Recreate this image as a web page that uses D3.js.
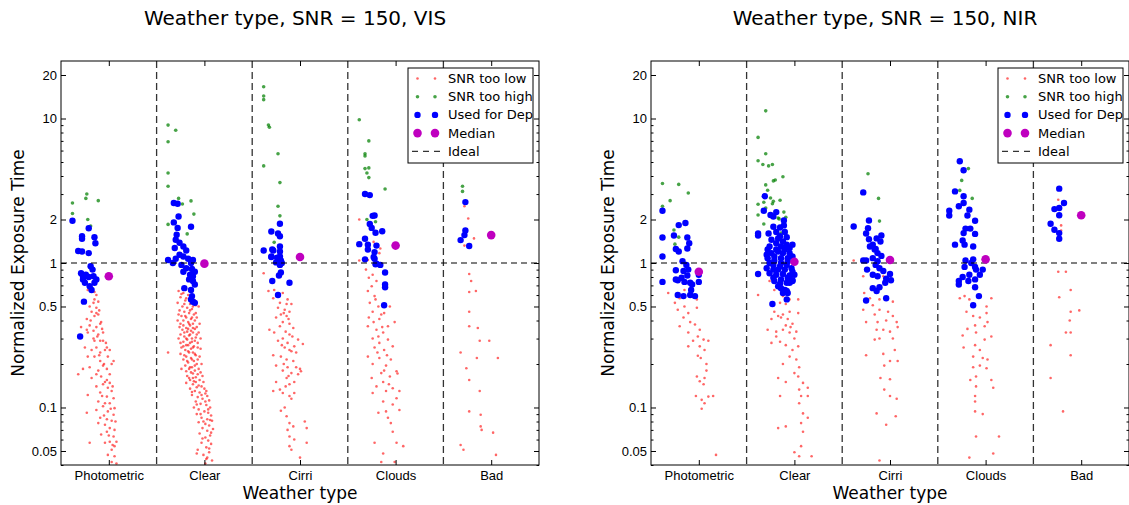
<!DOCTYPE html>
<html>
<head>
<meta charset="utf-8">
<script src="https://cdn.jsdelivr.net/npm/d3@7"></script>
<style>
body{margin:0;background:#fff;}
svg{display:block;font-family:"DejaVu Sans",sans-serif;}
</style>
</head>
<body>
<script>
// categories on the x axis and the labelled y ticks
var categories = ["Photometric","Clear","Cirri","Clouds","Bad"];
var yTicks = [0.05,0.1,0.5,1,2,10,20];
var titles = ["Weather type, SNR = 150, VIS","Weather type, SNR = 150, NIR"];
var legendLabels = ["SNR too low","SNR too high","Used for Dep","Median","Ideal"];

// points per category: [offset from category centre, normalized exposure time]
// ---------------- VIS ----------------
var visLow = [
 [[-0.13,0.60],[-0.15,0.56],[-0.16,0.53],[-0.11,0.54],[-0.20,0.50],[-0.13,0.49],[-0.18,0.46],[-0.23,0.41],[-0.15,0.43],[-0.11,0.44],[-0.20,0.37],[-0.13,0.36],[-0.09,0.38],[-0.16,0.34],[-0.22,0.33],[-0.11,0.32],[-0.09,0.29],[-0.06,0.29],[-0.16,0.30],[-0.25,0.26],[-0.13,0.26],[-0.18,0.25],[-0.09,0.24],[-0.04,0.25],[0.01,0.25],[-0.01,0.225],[-0.15,0.225],[-0.09,0.21],[0.03,0.20],[-0.06,0.195],[-0.20,0.19],[-0.27,0.185],[-0.02,0.185],[-0.13,0.17],[0.01,0.17],[-0.32,0.17],[-0.08,0.164],[-0.18,0.16],[-0.04,0.15],[0.01,0.148],[-0.06,0.145],[-0.13,0.14],[-0.01,0.137],[0.03,0.13],[-0.09,0.127],[-0.22,0.122],[-0.02,0.119],[0.05,0.116],[-0.11,0.11],[-0.04,0.107],[0.01,0.107],[-0.06,0.102],[0.06,0.099],[-0.13,0.096],[-0.01,0.094],[-0.23,0.092],[0.05,0.089],[-0.09,0.085],[-0.02,0.083],[0.03,0.081],[-0.11,0.078],[-0.04,0.076],[0.01,0.072],[0.06,0.070],[-0.02,0.068],[-0.08,0.065],[0.05,0.063],[0.01,0.058],[0.08,0.058],[-0.04,0.057],[0.06,0.054],[0.03,0.051],[-0.20,0.057],[-0.01,0.047],[0.06,0.046],[0.03,0.042],[0.08,0.041],[-0.13,0.45],[-0.08,0.39],[-0.23,0.345],[-0.06,0.33],[-0.15,0.29],[-0.29,0.36],[-0.02,0.26],[-0.22,0.225],[0.05,0.21],[-0.15,0.63],[-0.22,0.65],[-0.10,0.47],[-0.19,0.40],[-0.07,0.35],[-0.12,0.31],[-0.03,0.28],[-0.10,0.23],[-0.05,0.20],[-0.11,0.18],[-0.02,0.155],[0.04,0.14],[-0.07,0.12],[0.02,0.098],[-0.05,0.088],[0.07,0.08],[0.00,0.064],[0.04,0.055]],
 [[-0.27,0.64],[-0.22,0.62],[-0.17,0.60],[-0.25,0.58],[-0.12,0.57],[-0.20,0.55],[-0.28,0.53],[-0.15,0.52],[-0.09,0.51],[-0.23,0.50],[-0.18,0.49],[-0.13,0.48],[-0.06,0.50],[-0.26,0.47],[-0.21,0.46],[-0.16,0.45],[-0.11,0.44],[-0.24,0.43],[-0.19,0.42],[-0.14,0.41],[-0.08,0.42],[-0.28,0.40],[-0.17,0.39],[-0.12,0.38],[-0.22,0.37],[-0.15,0.37],[-0.05,0.38],[-0.26,0.36],[-0.19,0.355],[-0.10,0.35],[-0.14,0.34],[-0.23,0.345],[-0.18,0.335],[-0.12,0.33],[-0.25,0.32],[-0.16,0.315],[-0.08,0.32],[-0.21,0.31],[-0.13,0.30],[-0.27,0.30],[-0.18,0.295],[-0.10,0.29],[-0.04,0.30],[-0.22,0.285],[-0.15,0.28],[-0.38,0.24],[-0.19,0.27],[-0.11,0.265],[-0.24,0.26],[-0.14,0.255],[-0.07,0.26],[-0.20,0.25],[-0.17,0.245],[-0.12,0.24],[-0.25,0.235],[-0.09,0.23],[-0.19,0.225],[-0.14,0.22],[-0.05,0.225],[-0.22,0.215],[-0.11,0.21],[-0.17,0.205],[-0.08,0.20],[-0.20,0.195],[-0.13,0.19],[-0.03,0.20],[-0.16,0.185],[-0.10,0.18],[-0.24,0.185],[-0.14,0.175],[-0.07,0.17],[-0.18,0.165],[-0.12,0.16],[-0.02,0.165],[-0.15,0.155],[-0.09,0.15],[-0.05,0.155],[-0.19,0.148],[-0.12,0.145],[-0.03,0.14],[-0.08,0.138],[-0.15,0.135],[0.00,0.135],[-0.10,0.13],[-0.05,0.127],[0.01,0.125],[-0.13,0.122],[-0.07,0.118],[0.03,0.12],[-0.02,0.115],[-0.09,0.11],[0.05,0.112],[-0.04,0.106],[0.02,0.104],[-0.11,0.10],[0.06,0.10],[-0.06,0.097],[0.00,0.094],[0.04,0.092],[-0.08,0.09],[0.07,0.088],[-0.03,0.085],[0.03,0.083],[0.08,0.081],[-0.06,0.079],[0.01,0.077],[0.05,0.075],[-0.02,0.072],[0.09,0.071],[0.03,0.069],[-0.05,0.066],[0.06,0.064],[0.01,0.062],[0.04,0.059],[-0.03,0.057],[0.07,0.056],[0.02,0.053],[-0.07,0.051],[0.05,0.049],[-0.01,0.047],[0.03,0.045],[-0.08,0.048],[0.08,0.043],[0.01,0.041],
  [-0.24,0.61],[-0.14,0.59],[-0.19,0.57],[-0.10,0.55],[-0.21,0.52],[-0.12,0.50],[-0.15,0.47],[-0.27,0.44],[-0.09,0.45],[-0.20,0.43],[-0.13,0.42],[-0.22,0.40],[-0.10,0.40],[-0.16,0.38],[-0.25,0.38],[-0.08,0.36],[-0.17,0.35],[-0.12,0.355],[-0.21,0.33],[-0.06,0.33],[-0.15,0.32],[-0.19,0.30],[-0.09,0.305],[-0.13,0.285],[-0.25,0.28],[-0.07,0.28],[-0.17,0.27],[-0.22,0.265],[-0.12,0.26],[-0.04,0.255],[-0.16,0.24],[-0.10,0.235],[-0.21,0.23],[-0.13,0.215],[-0.07,0.215],[-0.18,0.21],[-0.10,0.195],[-0.15,0.19],[-0.06,0.185],[-0.19,0.178],[-0.12,0.172],[-0.04,0.175],[-0.09,0.162],[-0.16,0.16],[-0.01,0.15],[-0.11,0.152],[-0.06,0.142],[-0.13,0.128],[0.02,0.13],[-0.03,0.122],[-0.08,0.105],[0.01,0.11],[0.04,0.097],[-0.04,0.09],[0.06,0.082],[-0.01,0.08],[0.07,0.067],[-0.02,0.061],[0.05,0.052],[0.02,0.044]],
 [[-0.38,0.85],[-0.33,0.64],[-0.27,0.65],[-0.18,0.62],[-0.28,0.57],[-0.21,0.53],[-0.13,0.56],[-0.09,0.52],[-0.23,0.49],[-0.16,0.475],[-0.11,0.46],[-0.20,0.44],[-0.14,0.43],[-0.25,0.42],[-0.18,0.39],[-0.11,0.38],[-0.21,0.365],[-0.32,0.345],[-0.15,0.335],[-0.27,0.33],[-0.11,0.32],[-0.18,0.30],[-0.02,0.295],[-0.23,0.29],[-0.13,0.28],[0.03,0.275],[-0.16,0.26],[-0.06,0.265],[-0.09,0.245],[-0.20,0.225],[-0.14,0.215],[-0.07,0.21],[-0.25,0.195],[-0.13,0.19],[0.00,0.185],[-0.18,0.18],[-0.09,0.173],[-0.02,0.17],[-0.14,0.16],[-0.25,0.15],[-0.06,0.15],[-0.11,0.145],[-0.28,0.13],[-0.18,0.126],[-0.06,0.126],[-0.11,0.12],[-0.16,0.10],[-0.20,0.095],[-0.14,0.087],[-0.11,0.078],[0.05,0.08],[-0.07,0.074],[0.07,0.072],[-0.13,0.070],[-0.11,0.063],[-0.06,0.06],[0.07,0.057],[-0.11,0.054],[-0.09,0.051],[0.00,0.045],[-0.28,0.23],[-0.04,0.24],[-0.21,0.133],[0.01,0.178],[-0.14,0.52],[-0.07,0.355],[-0.17,0.45],[-0.12,0.41],[-0.08,0.31],[-0.19,0.27],[-0.11,0.25],[-0.17,0.2],[-0.04,0.19],[-0.15,0.14],[-0.12,0.165],[-0.09,0.115]],
 [[-0.38,2.0],[-0.29,1.05],[-0.23,1.40],[-0.16,1.26],[-0.17,1.17],[-0.38,1.04],[-0.31,0.90],[-0.24,0.83],[-0.28,0.79],[-0.20,0.75],[-0.29,0.64],[-0.22,0.59],[-0.27,0.53],[-0.18,0.50],[-0.24,0.46],[-0.12,0.45],[-0.28,0.42],[-0.17,0.41],[-0.01,0.39],[-0.29,0.365],[-0.20,0.345],[-0.13,0.33],[-0.24,0.30],[-0.08,0.295],[-0.17,0.28],[-0.03,0.265],[-0.22,0.26],[-0.12,0.25],[-0.29,0.225],[-0.17,0.22],[-0.05,0.215],[-0.24,0.20],[-0.10,0.195],[0.01,0.178],[-0.15,0.173],[-0.25,0.16],[-0.06,0.164],[0.02,0.172],[-0.13,0.15],[-0.20,0.14],[-0.03,0.136],[-0.10,0.13],[0.04,0.13],[-0.24,0.126],[-0.13,0.11],[0.01,0.116],[-0.18,0.092],[-0.10,0.094],[-0.05,0.078],[-0.03,0.068],[0.01,0.057],[0.08,0.054],[-0.22,0.057],[-0.13,0.048],[-0.01,0.042],[-0.15,0.042],[0.04,0.096],[-0.18,0.31],[-0.08,0.365],[-0.06,0.50],[-0.25,0.69],[-0.21,0.56],[-0.15,0.44],[-0.23,0.39],[-0.14,0.36],[-0.19,0.24],[-0.09,0.23],[-0.12,0.18],[-0.07,0.145],[-0.03,0.105],[-0.08,0.085]],
 [[-0.28,2.47],[-0.24,2.03],[-0.18,1.48],[-0.28,1.32],[-0.23,0.84],[-0.21,0.75],[-0.23,0.63],[-0.16,0.64],[-0.23,0.46],[-0.23,0.365],[-0.14,0.355],[-0.12,0.29],[-0.02,0.29],[-0.32,0.24],[-0.15,0.22],[0.07,0.22],[-0.26,0.187],[-0.23,0.155],[-0.12,0.13],[-0.23,0.094],[-0.11,0.089],[-0.11,0.074],[-0.10,0.07],[0.02,0.067],[-0.32,0.055],[-0.29,0.051],[0.05,0.047]]
];
var visHigh = [
 [[-0.38,2.6],[-0.38,2.2],[-0.23,3.0],[-0.24,2.8],[-0.11,2.7],[-0.22,2.0],[-0.19,1.8]],
 [[-0.38,9.0],[-0.30,8.3],[-0.38,6.9],[-0.38,4.2],[-0.38,3.4],[-0.27,2.8],[-0.14,2.69],[-0.23,2.56],[-0.11,2.18],[-0.38,1.85],[-0.18,1.59]],
 [[-0.38,16.6],[-0.38,14.3],[-0.38,13.5],[-0.33,9.0],[-0.32,8.7],[-0.23,5.7],[-0.38,4.7],[-0.21,3.6],[-0.23,2.47],[-0.21,2.12],[-0.27,1.39]],
 [[-0.38,9.8],[-0.28,7.0],[-0.32,5.7],[-0.32,5.5],[-0.32,4.5],[-0.28,4.55],[-0.30,4.2],[-0.28,3.9],[-0.11,3.25],[-0.30,2.0],[-0.21,1.93]],
 [[-0.30,3.4],[-0.30,3.13]]
];
var visUsed = [
 [[-0.38,1.96],[-0.21,1.74],[-0.28,1.53],[-0.28,1.47],[-0.15,1.51],[-0.14,1.37],[-0.32,1.21],[-0.28,1.2],[-0.21,1.17],[-0.19,0.95],[-0.17,0.90],[-0.29,0.85],[-0.27,0.81],[-0.24,0.83],[-0.21,0.80],[-0.16,0.81],[-0.13,0.77],[-0.27,0.77],[-0.25,0.73],[-0.20,0.69],[-0.18,0.65],[-0.15,0.73],[-0.26,0.54],[-0.30,0.31]],
 [[-0.32,2.60],[-0.28,2.57],[-0.27,2.10],[-0.32,1.91],[-0.14,1.78],[-0.28,1.75],[-0.29,1.57],[-0.30,1.45],[-0.26,1.38],[-0.31,1.27],[-0.22,1.30],[-0.19,1.22],[-0.26,1.14],[-0.22,1.11],[-0.38,1.05],[-0.30,1.07],[-0.17,1.07],[-0.12,1.05],[-0.14,1.0],[-0.33,1.0],[-0.24,0.97],[-0.19,0.92],[-0.13,0.91],[-0.10,0.87],[-0.22,0.87],[-0.15,0.83],[-0.12,0.81],[-0.16,0.77],[-0.12,0.75],[-0.10,0.71],[-0.21,0.67],[-0.14,0.65],[-0.13,0.59],[-0.14,0.56],[-0.12,0.54],[-0.10,0.53]],
 [[-0.21,1.87],[-0.30,1.65],[-0.23,1.6],[-0.21,1.53],[-0.38,1.22],[-0.29,1.24],[-0.21,1.30],[-0.21,1.2],[-0.30,1.10],[-0.24,1.09],[-0.20,1.04],[-0.21,0.97],[-0.28,1.22],[-0.30,1.11],[-0.21,1.11],[-0.25,1.01],[-0.19,1.0],[-0.20,0.86],[-0.22,0.82],[-0.29,0.75],[-0.11,0.73],[-0.23,0.60]],
 [[-0.32,3.0],[-0.27,2.95],[-0.24,2.12],[-0.22,2.13],[-0.27,1.86],[-0.25,1.75],[-0.14,1.66],[-0.21,1.62],[-0.32,1.47],[-0.38,1.35],[-0.29,1.34],[-0.20,1.32],[-0.29,1.24],[-0.22,1.19],[-0.32,1.06],[-0.22,1.07],[-0.20,0.99],[-0.16,0.97],[-0.23,1.1],[-0.21,0.98],[-0.11,0.86],[-0.11,0.71],[-0.11,0.68],[-0.12,0.51]],
 [[-0.27,2.64],[-0.27,1.68],[-0.28,1.56],[-0.32,1.44],[-0.23,1.31]]
];
var visMedian = [0.81,0.99,1.10,1.32,1.56];

// ---------------- NIR ----------------
var nirLow = [
 [[-0.32,0.62],[-0.25,0.53],[-0.13,0.73],[-0.09,0.62],[-0.20,0.57],[-0.02,0.56],[-0.15,0.50],[-0.22,0.475],[-0.11,0.45],[-0.02,0.49],[-0.16,0.42],[-0.09,0.39],[-0.20,0.365],[-0.04,0.375],[0.01,0.345],[-0.11,0.33],[-0.01,0.31],[0.05,0.295],[0.10,0.29],[-0.11,0.265],[0.01,0.265],[0.06,0.25],[-0.01,0.228],[0.02,0.22],[0.08,0.20],[-0.02,0.164],[0.06,0.16],[0.01,0.152],[0.05,0.145],[-0.03,0.12],[0.15,0.12],[0.10,0.119],[0.03,0.113],[0.06,0.107],[0.03,0.098],[0.18,0.047],[0.08,0.18],[-0.06,0.29],[-0.15,0.65]],
 [[-0.38,0.60],[-0.26,0.75],[-0.21,0.65],[-0.12,0.59],[-0.15,0.53],[-0.05,0.56],[0.04,0.56],[-0.21,0.46],[-0.12,0.44],[-0.05,0.46],[0.04,0.45],[-0.24,0.41],[-0.14,0.42],[-0.09,0.37],[-0.02,0.38],[-0.28,0.345],[-0.19,0.335],[-0.12,0.345],[-0.05,0.33],[0.02,0.335],[-0.24,0.28],[-0.15,0.285],[-0.09,0.27],[-0.02,0.25],[0.04,0.265],[-0.05,0.225],[0.02,0.215],[-0.12,0.20],[0.05,0.19],[0.00,0.173],[-0.17,0.16],[0.04,0.164],[-0.09,0.15],[0.09,0.148],[0.05,0.133],[0.14,0.137],[-0.15,0.12],[0.07,0.12],[0.14,0.12],[0.05,0.107],[0.09,0.091],[0.14,0.085],[0.07,0.078],[-0.17,0.072],[-0.09,0.074],[0.09,0.068],[0.07,0.054],[0.00,0.049],[0.05,0.046],[0.18,0.046],[-0.09,0.52],[-0.17,0.43],[-0.07,0.41],[0.00,0.30],[-0.04,0.36],[-0.19,0.31]],
 [[-0.38,1.04],[-0.28,0.81],[-0.27,0.62],[-0.21,0.57],[-0.11,0.56],[0.03,0.54],[-0.18,0.51],[-0.28,0.475],[-0.11,0.475],[-0.02,0.46],[-0.16,0.44],[0.03,0.43],[-0.25,0.39],[-0.13,0.39],[-0.04,0.40],[0.07,0.39],[-0.14,0.345],[-0.07,0.345],[0.08,0.36],[0.00,0.335],[-0.11,0.30],[0.03,0.30],[-0.16,0.295],[-0.25,0.23],[-0.07,0.235],[0.05,0.25],[0.00,0.21],[0.08,0.21],[-0.06,0.195],[-0.10,0.16],[0.00,0.157],[-0.06,0.133],[0.00,0.12],[0.07,0.115],[-0.14,0.091],[0.06,0.087],[-0.04,0.076],[-0.11,0.043],[-0.07,0.81],[-0.20,0.66]],
 [[-0.27,0.57],[-0.22,0.59],[-0.17,0.56],[-0.05,0.59],[0.06,0.57],[-0.20,0.46],[0.01,0.50],[0.01,0.45],[-0.13,0.43],[-0.06,0.42],[0.02,0.39],[-0.19,0.35],[-0.11,0.37],[-0.01,0.365],[-0.24,0.315],[-0.10,0.33],[-0.01,0.295],[0.06,0.31],[-0.11,0.27],[-0.06,0.25],[-0.23,0.26],[-0.13,0.225],[-0.03,0.22],[0.02,0.215],[-0.06,0.195],[0.01,0.187],[-0.13,0.19],[-0.10,0.164],[-0.16,0.155],[0.06,0.155],[0.08,0.137],[-0.10,0.14],[-0.11,0.12],[-0.11,0.11],[-0.11,0.094],[-0.03,0.09],[-0.10,0.063],[0.14,0.063],[0.08,0.048],[-0.17,0.045]],
 [[-0.24,2.74],[-0.21,1.82],[-0.21,1.68],[-0.24,0.87],[-0.16,0.87],[-0.11,0.65],[-0.23,0.58],[-0.11,0.46],[-0.02,0.47],[-0.12,0.40],[-0.16,0.33],[-0.11,0.33],[-0.32,0.27],[-0.11,0.23],[-0.32,0.16],[-0.19,0.094]]
];
var nirHigh = [
 [[-0.38,3.55],[-0.21,3.5],[-0.11,3.05],[-0.30,2.7],[-0.38,2.47],[-0.26,1.69],[-0.21,1.51],[-0.25,1.35]],
 [[-0.30,11.3],[-0.38,7.4],[-0.30,5.7],[-0.38,5.1],[-0.33,4.8],[-0.27,4.7],[-0.23,4.8],[-0.22,3.7],[-0.20,3.75],[-0.12,3.95],[-0.30,3.47],[-0.28,3.19],[-0.25,2.82],[-0.15,2.72],[-0.38,2.55],[-0.32,2.63],[-0.22,2.67],[-0.23,2.57],[-0.30,2.40],[-0.38,2.15],[-0.11,2.25],[-0.17,2.05],[-0.16,2.02],[-0.09,2.07],[-0.32,1.86],[-0.14,1.61]],
 [[-0.23,4.15],[-0.12,2.8],[-0.11,1.95]],
 [[-0.18,4.5],[-0.25,3.73],[-0.27,3.18],[-0.14,2.8]],
 []
];
var nirUsed = [
 [[-0.38,2.3],[-0.14,1.89],[-0.21,1.83],[-0.38,1.50],[-0.26,1.55],[-0.12,1.5],[-0.10,1.37],[-0.12,1.26],[-0.24,1.25],[-0.21,1.2],[-0.38,1.11],[-0.17,1.03],[-0.13,0.97],[-0.24,0.89],[-0.16,0.88],[-0.11,0.90],[-0.12,0.82],[-0.24,0.77],[-0.18,0.79],[-0.15,0.74],[0.00,0.74],[-0.38,0.74],[-0.07,0.71],[-0.08,0.65],[-0.22,0.60],[-0.16,0.59],[-0.09,0.60],[-0.04,0.59],[0.00,0.83],[-0.22,0.76],[-0.09,0.73]],
 [[-0.31,2.9],[-0.32,2.3],[-0.25,2.15],[-0.19,2.25],[-0.22,2.1],[-0.11,1.97],[-0.11,1.82],[-0.38,1.60],[-0.38,1.55],[-0.27,1.60],[-0.22,1.78],[-0.19,1.64],[-0.15,1.53],[-0.08,1.51],[-0.26,1.30],[-0.19,1.37],[-0.14,1.30],[-0.08,1.34],[-0.02,1.34],[-0.24,1.17],[-0.17,1.20],[-0.10,1.24],[-0.05,1.17],[-0.28,1.08],[-0.21,1.11],[-0.14,1.08],[-0.07,1.08],[-0.02,1.11],[-0.29,0.92],[-0.22,0.97],[-0.15,0.95],[-0.08,0.97],[-0.03,0.92],[-0.38,0.84],[-0.26,0.85],[-0.19,0.83],[-0.12,0.84],[-0.05,0.82],[-0.02,0.87],[-0.21,0.75],[-0.14,0.77],[-0.08,0.73],[-0.02,0.76],[-0.17,0.69],[-0.10,0.65],[-0.12,0.62],[-0.08,0.64],[-0.23,0.52],[-0.28,1.24],[-0.24,1.45],[-0.17,1.48],[-0.12,1.41],[-0.05,1.27],[-0.21,1.04],[-0.14,1.0],[-0.07,1.03],[-0.26,1.0],[-0.17,0.90],[-0.10,0.90],[-0.22,0.79],[-0.15,0.72],[-0.05,0.73],[-0.14,0.67],[-0.19,1.24],[-0.12,1.17],[-0.29,1.14],[-0.22,0.90],[-0.07,0.79],[0.00,0.83],[-0.10,1.64],[-0.15,1.76],[-0.08,0.56],[-0.02,0.75],[-0.07,0.62]],
 [[-0.28,3.08],[-0.38,1.79],[-0.22,1.97],[-0.23,1.74],[-0.25,1.6],[-0.22,1.46],[-0.14,1.48],[-0.09,1.55],[-0.10,1.41],[-0.18,1.34],[-0.15,1.25],[-0.13,1.17],[-0.28,1.04],[-0.25,1.04],[-0.18,1.08],[-0.13,1.03],[-0.09,1.12],[-0.15,0.97],[-0.24,0.90],[-0.11,0.92],[-0.07,0.88],[-0.18,0.83],[-0.13,0.81],[0.00,0.84],[-0.04,0.78],[0.01,0.76],[-0.05,0.73],[-0.18,0.67],[-0.11,0.68],[-0.14,0.64],[-0.04,0.57],[-0.25,0.55],[-0.16,1.24],[-0.21,1.30]],
 [[-0.27,5.06],[-0.23,4.38],[-0.32,3.13],[-0.23,2.9],[-0.28,2.47],[-0.23,2.6],[-0.17,2.34],[-0.38,2.3],[-0.38,2.13],[-0.19,2.13],[-0.11,1.96],[-0.21,1.73],[-0.16,1.73],[-0.23,1.61],[-0.11,1.59],[-0.24,1.43],[-0.32,1.34],[-0.22,1.34],[-0.13,1.30],[-0.21,1.04],[-0.13,1.06],[-0.22,0.94],[-0.11,0.94],[-0.03,0.90],[-0.06,0.83],[-0.24,0.80],[-0.28,0.75],[-0.18,0.75],[-0.11,0.77],[-0.28,0.71],[-0.11,0.68],[-0.07,0.59],[-0.13,0.51],[-0.15,1.0],[-0.10,0.90],[-0.17,0.83]],
 [[-0.23,3.27],[-0.18,2.6],[-0.23,2.4],[-0.28,2.36],[-0.23,2.14],[-0.32,1.87],[-0.28,1.70],[-0.23,1.61],[-0.23,1.47]]
];
var nirMedian = [0.87,1.02,1.05,1.06,2.14];

var WIDTH = 1129, HEIGHT = 505;
var MARGIN = {left:61, top:61};
var INNER_WIDTH = 478, INNER_HEIGHT = 404;
var PANEL_STEP = 590;

var svg = d3.select('body').append('svg')
	.attr('width',WIDTH)
	.attr('height',HEIGHT);

var xScale = d3.scaleLinear().domain([-0.5,4.5]).range([0,INNER_WIDTH]);
var yScale = d3.scaleLog().domain([0.04,25]).range([INNER_HEIGHT,0]);

var minorTicks = [];
[0.01,0.1,1,10].forEach(function(d){
	for(var k=2;k<10;k++){
		var v = +(d*k).toPrecision(3);
		if(v>=0.04 && v<=25 && yTicks.indexOf(v)<0) minorTicks.push(v);
	}
});

var styleAxis = function(g){
	g.select('.domain').remove();
	g.selectAll('.tick line').attr('stroke','#000');
	g.selectAll('.tick text').attr('fill','#000').attr('font-size','13px');
};

var drawPanel = function(idx, low, high, used, median){
	var g = svg.append('g')
		.attr('transform','translate('+(MARGIN.left+idx*PANEL_STEP)+','+MARGIN.top+')');

	// title
	svg.append('text')
		.attr('x',MARGIN.left+idx*PANEL_STEP+INNER_WIDTH/2-5)
		.attr('y',25)
		.attr('text-anchor','middle')
		.attr('font-size','20px')
		.text(titles[idx]);

	// points
	var pts = function(sets, r, fill, op){
		sets.forEach(function(arr,i){
			g.append('g').selectAll('circle').data(arr).enter()
				.append('circle')
				.attr('cx',function(d){return xScale(i+d[0])})
				.attr('cy',function(d){return yScale(d[1])})
				.attr('r',r)
				.attr('fill',fill)
				.attr('fill-opacity',op);
		});
	};
	pts(low,1.3,'#ff0000',0.6);
	pts(high,1.8,'#008000',0.72);
	pts(used,3.2,'#0000ff',1);

	// category dividers
	g.selectAll('.div').data([0.5,1.5,2.5,3.5]).enter()
		.append('line')
		.attr('x1',function(d){return xScale(d)})
		.attr('x2',function(d){return xScale(d)})
		.attr('y1',0).attr('y2',INNER_HEIGHT)
		.attr('stroke','#333').attr('stroke-width',1.3)
		.attr('stroke-dasharray','7,4');

	// ideal line
	g.append('line')
		.attr('x1',0).attr('x2',INNER_WIDTH)
		.attr('y1',yScale(1)).attr('y2',yScale(1))
		.attr('stroke','#000').attr('stroke-width',1)
		.attr('stroke-dasharray','6,4');

	// medians
	g.append('g').selectAll('circle').data(median).enter()
		.append('circle')
		.attr('cx',function(d,i){return xScale(i)})
		.attr('cy',function(d){return yScale(d)})
		.attr('r',4.3)
		.attr('fill','#bf00bf');

	// axes, ticks pointing inward
	g.append('g').call(d3.axisLeft(yScale).tickValues(yTicks).tickSize(-5).tickPadding(4)
		.tickFormat(function(d){return String(d)})).call(styleAxis);
	g.append('g').call(d3.axisLeft(yScale).tickValues(minorTicks).tickSize(-2.5).tickFormat('')).call(styleAxis);
	g.append('g').attr('transform','translate('+INNER_WIDTH+',0)')
		.call(d3.axisRight(yScale).tickValues(yTicks).tickSize(-5).tickFormat('')).call(styleAxis);
	g.append('g').attr('transform','translate('+INNER_WIDTH+',0)')
		.call(d3.axisRight(yScale).tickValues(minorTicks).tickSize(-2.5).tickFormat('')).call(styleAxis);
	g.append('g').attr('transform','translate(0,'+INNER_HEIGHT+')')
		.call(d3.axisBottom(xScale).tickValues([0,1,2,3,4]).tickSize(-5).tickPadding(6)
			.tickFormat(function(d){return categories[d]})).call(styleAxis);
	g.append('g')
		.call(d3.axisTop(xScale).tickValues([0,1,2,3,4]).tickSize(-5).tickFormat('')).call(styleAxis);

	g.append('rect')
		.attr('width',INNER_WIDTH).attr('height',INNER_HEIGHT)
		.attr('fill','none').attr('stroke','#000').attr('stroke-width',1);

	// axis labels
	g.append('text')
		.attr('x',INNER_WIDTH/2).attr('y',INNER_HEIGHT+34)
		.attr('text-anchor','middle').attr('font-size','17px')
		.text('Weather type');
	g.append('text')
		.attr('transform','translate(-37,'+(yScale(1))+') rotate(-90)')
		.attr('text-anchor','middle').attr('font-size','17px')
		.text('Normalized Exposure Time');

	// legend
	var lg = g.append('g').attr('transform','translate(347,7)');
	lg.append('rect').attr('width',125).attr('height',95)
		.attr('fill','#fff').attr('stroke','#000').attr('stroke-width',1);
	var rowY = function(i){return 10.5+i*18.2};
	var mk = [[1.3,'#ff0000',0.6],[1.8,'#008000',0.72],[3.2,'#0000ff',1],[4.3,'#bf00bf',1]];
	mk.forEach(function(m,i){
		[9.5,27].forEach(function(x){
			lg.append('circle').attr('cx',x).attr('cy',rowY(i)).attr('r',m[0])
				.attr('fill',m[1]).attr('fill-opacity',m[2]);
		});
	});
	lg.append('line').attr('x1',4).attr('x2',33).attr('y1',rowY(4)).attr('y2',rowY(4))
		.attr('stroke','#000').attr('stroke-dasharray','6,5');
	lg.selectAll('.lt').data(legendLabels).enter()
		.append('text')
		.attr('x',40).attr('y',function(d,i){return rowY(i)})
		.attr('dy','0.35em').attr('font-size','13px')
		.text(function(d){return d});
};

drawPanel(0, visLow, visHigh, visUsed, visMedian);
drawPanel(1, nirLow, nirHigh, nirUsed, nirMedian);
</script>
</body>
</html>
